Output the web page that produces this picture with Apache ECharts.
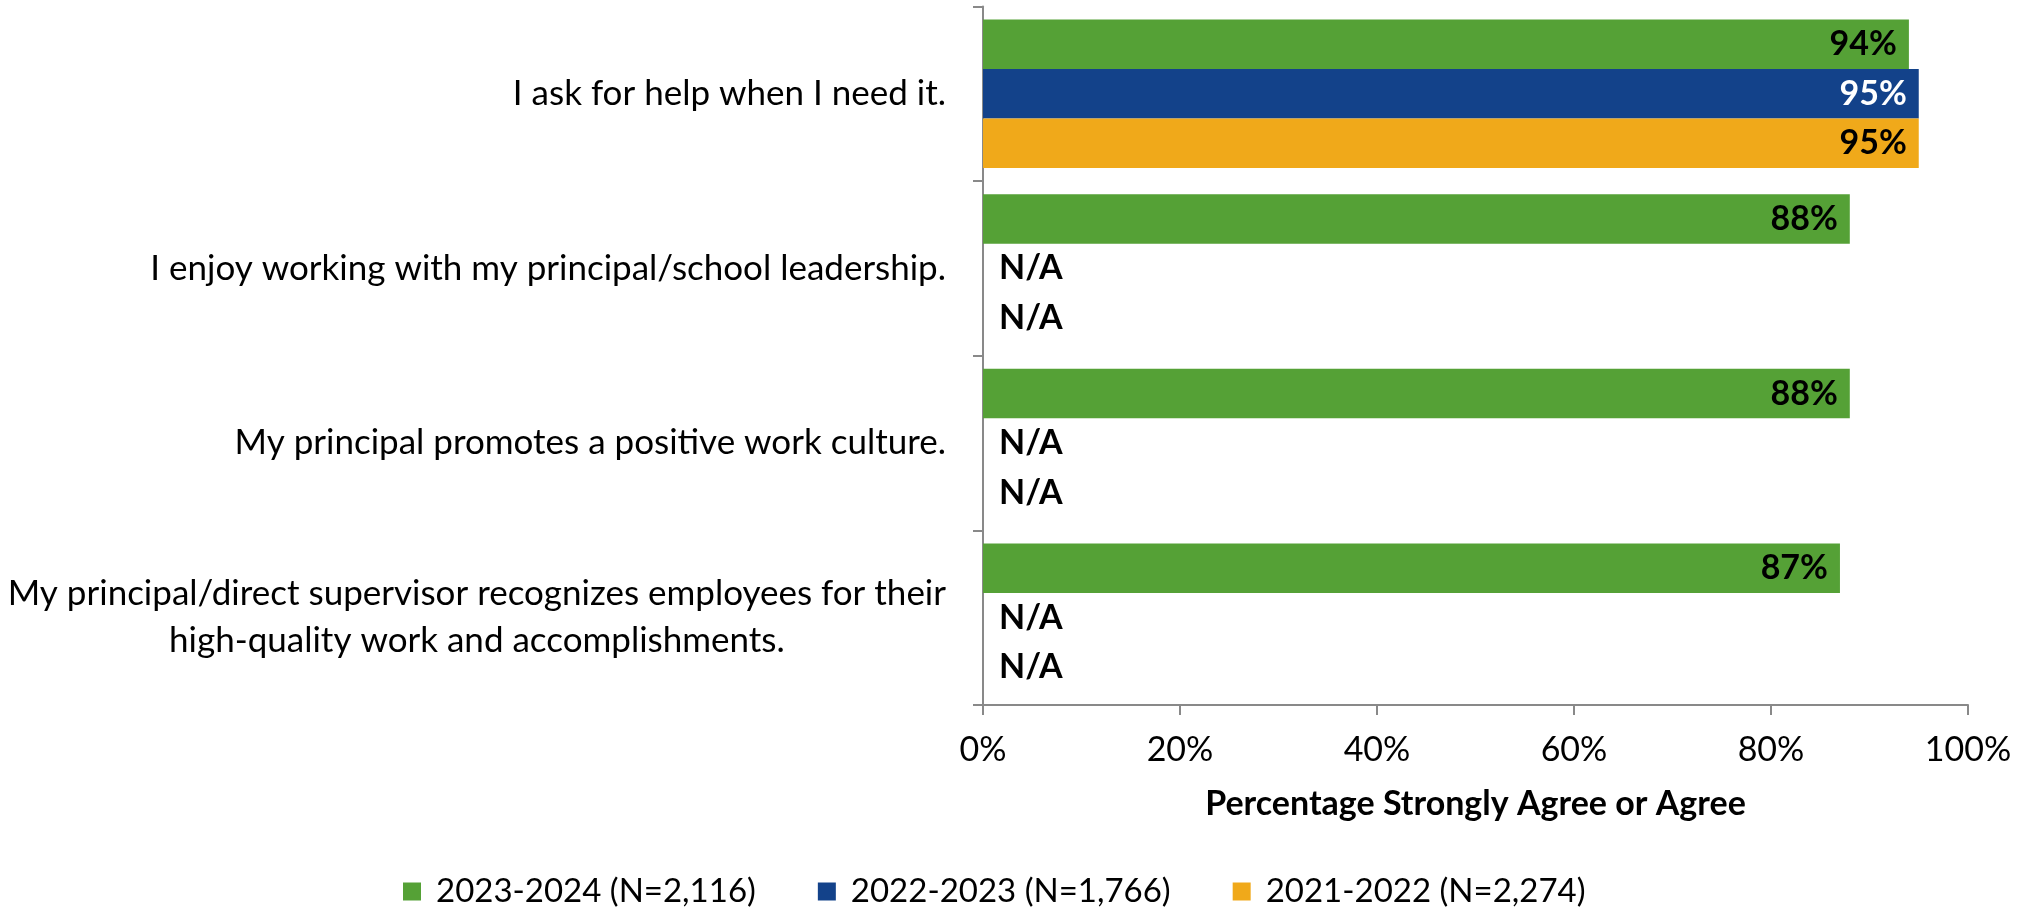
<!DOCTYPE html>
<html><head><meta charset="utf-8">
<script src="https://cdn.jsdelivr.net/npm/echarts@6/dist/echarts.min.js"></script>
<style>html,body{margin:0;padding:0;background:#fff}#c{width:2031px;height:908px}</style>
</head><body><div id="c"></div>
<script>
const categories = [
  "I ask for help when I need it.",
  "I enjoy working with my principal/school leadership.",
  "My principal promotes a positive work culture.",
  "My principal/direct supervisor recognizes employees for their\nhigh-quality work and accomplishments."
];
const seriesNames = ["2023-2024 (N=2,116)", "2022-2023 (N=1,766)", "2021-2022 (N=2,274)"];
const s2023 = [94, 88, 88, 87];
const s2022 = [95, null, null, null];
const s2021 = [95, null, null, null];
const xTicks = [0, 20, 40, 60, 80, 100];
const colors = ["#55A136", "#13428A", "#F0A91A"];
const labelColors = ["#000", "#fff", "#000"];

const FONT = "Lato, 'Liberation Sans', sans-serif";

function mkData(arr) {
  return arr.map(v => v === null
    ? { value: 0, label: { position: 'right', distance: 16, formatter: 'N/A', color: '#000' } }
    : { value: v });
}
const all = [s2023, s2022, s2021];
const series = all.map((arr, i) => ({
  name: seriesNames[i],
  type: 'bar',
  data: mkData(arr),
  barGap: '0%',
  barCategoryGap: '15%',
  itemStyle: { color: colors[i] },
  label: {
    show: true, position: 'insideRight', distance: 12,
    formatter: p => p.value + '%',
    color: labelColors[i], fontWeight: 'bold', fontSize: 34, fontFamily: FONT
  }
}));

const chart = echarts.init(document.getElementById('c'));
chart.setOption({
  animation: false,
  color: colors,
  grid: { left: 983, right: 63, top: 6.5, bottom: 203, containLabel: false },
  legend: {
    bottom: -5, left: 398,
    itemWidth: 18, itemHeight: 18, itemGap: 62,
    icon: 'rect',
    textStyle: { fontSize: 33, fontFamily: FONT, color: '#000', padding: [0,0,0,10] },
    data: seriesNames
  },
  xAxis: {
    type: 'value', min: 0, max: 100, interval: 20,
    name: 'Percentage Strongly Agree or Agree',
    nameLocation: 'middle', nameGap: 82,
    nameTextStyle: { fontSize: 34, fontWeight: 'bold', fontFamily: FONT, color: '#000' },
    axisLine: { show: true, lineStyle: { color: '#898989', width: 2 } },
    axisTick: { show: true, length: 10, lineStyle: { color: '#898989', width: 2 } },
    splitLine: { show: false },
    axisLabel: {
      margin: 28, fontSize: 34, fontFamily: FONT, color: '#000',
      formatter: v => xTicks.includes(v) ? v + '%' : ''
    }
  },
  yAxis: {
    type: 'category', inverse: true, data: categories,
    axisLine: { show: true, lineStyle: { color: '#898989', width: 2 } },
    axisTick: { show: true, length: 10, lineStyle: { color: '#898989', width: 2 } },
    axisLabel: {
      margin: 37, color: '#000',
      formatter: v => v.split('\n').map(l => '{c|' + l + '}').join('\n'),
      rich: { c: { align: 'center', fontSize: 35, fontFamily: FONT, color: '#000', lineHeight: 47 } }
    }
  },
  series: series
});
</script></body></html>
